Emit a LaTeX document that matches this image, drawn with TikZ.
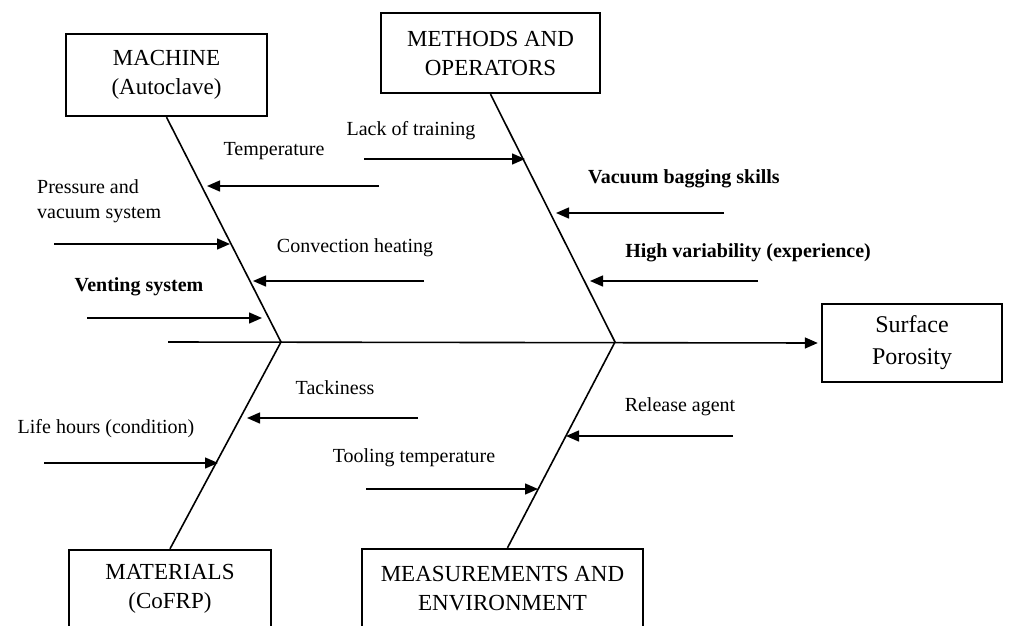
\documentclass[tikz,border=0pt]{standalone}
\usepackage{fontspec}
\setmainfont{Liberation Serif}
\usetikzlibrary{arrows.meta}
\begin{document}
\begin{tikzpicture}[x=1pt,y=-1pt,
  box/.style={draw,line width=2.4pt,align=center,inner sep=0pt,font=\fontsize{23}{29}\selectfont},
  lbl/.style={anchor=base,inner sep=0pt,font=\fontsize{20}{25}\selectfont},
  blbl/.style={anchor=base,inner sep=0pt,font=\fontsize{20}{25}\selectfont\bfseries},
  bone/.style={line width=1.6pt},
  tip/.style={-{Triangle[length=13pt,width=11pt]}},
  cause/.style={line width=1.4pt,tip}]
\useasboundingbox (0,0) rectangle (1012,626);
\clip (0,0) rectangle (1012,626);
% category boxes
\node[box,minimum width=201pt,minimum height=82pt] (mach) at (166.5,75) {MACHINE\\(Autoclave)};
\node[box,minimum width=219pt,minimum height=80pt] (meth) at (490.5,53) {METHODS AND\\OPERATORS};
\node[box,minimum width=202pt,minimum height=78pt] (mat) at (170,589) {MATERIALS\\(CoFRP)};
\node[box,minimum width=281pt,minimum height=80pt] (meas) at (502.5,589) {MEASUREMENTS AND\\ENVIRONMENT};
\node[box,minimum width=180pt,minimum height=78pt,font=\fontsize{24}{32}\selectfont] (surf) at (912,343) {Surface\\Porosity};
% spine and bones
\coordinate (tail) at (168,342);
\coordinate (J1) at (281,342);
\coordinate (J2) at (615,342);
\draw[bone,tip,shorten >=3pt] (tail) -- (surf.west);
\draw[bone] (mach.south) -- (J1) -- (mat.north);
\draw[bone] (meth.south) -- (J2) -- ([xshift=5pt]meas.north);
% labels
\node[lbl] (temp) at (274,155) {Temperature};
\node[anchor=north west,inner sep=0pt,align=left,font=\fontsize{20}{25}\selectfont] (pres) at (37,179.5) {Pressure and\\vacuum system};
\node[lbl] (conv) at (355,252) {Convection heating};
\node[blbl] (vent) at (139,291) {Venting system};
\node[lbl] (lack) at (411,135) {Lack of training};
\node[blbl] (vbs) at (684,183) {Vacuum bagging skills};
\node[blbl] (hv) at (748,257) {High variability (experience)};
\node[lbl] (tack) at (335,394) {Tackiness};
\node[lbl] (life) at (106,433) {Life hours (condition)};
\node[lbl] (tool) at (414,462) {Tooling temperature};
\node[lbl] (rel) at (680,411) {Release agent};
% cause arrows
\draw[cause] (379,186) coordinate (tempA) -- (207,186) coordinate (tempB);
\draw[cause] (54,244) coordinate (presA) -- (230,244) coordinate (presB);
\draw[cause] (424,281) coordinate (convA) -- (253,281) coordinate (convB);
\draw[cause] (87,318) coordinate (ventA) -- (262,318) coordinate (ventB);
\draw[cause] (364,159) coordinate (lackA) -- (525,159) coordinate (lackB);
\draw[cause] (724,213) coordinate (vbsA) -- (556,213) coordinate (vbsB);
\draw[cause] (758,281) coordinate (hvA) -- (590,281) coordinate (hvB);
\draw[cause] (418,418) coordinate (tackA) -- (247,418) coordinate (tackB);
\draw[cause] (44,463) coordinate (lifeA) -- (218,463) coordinate (lifeB);
\draw[cause] (366,489) coordinate (toolA) -- (538,489) coordinate (toolB);
\draw[cause] (733,436) coordinate (relA) -- (566,436) coordinate (relB);
\end{tikzpicture}
\end{document}
